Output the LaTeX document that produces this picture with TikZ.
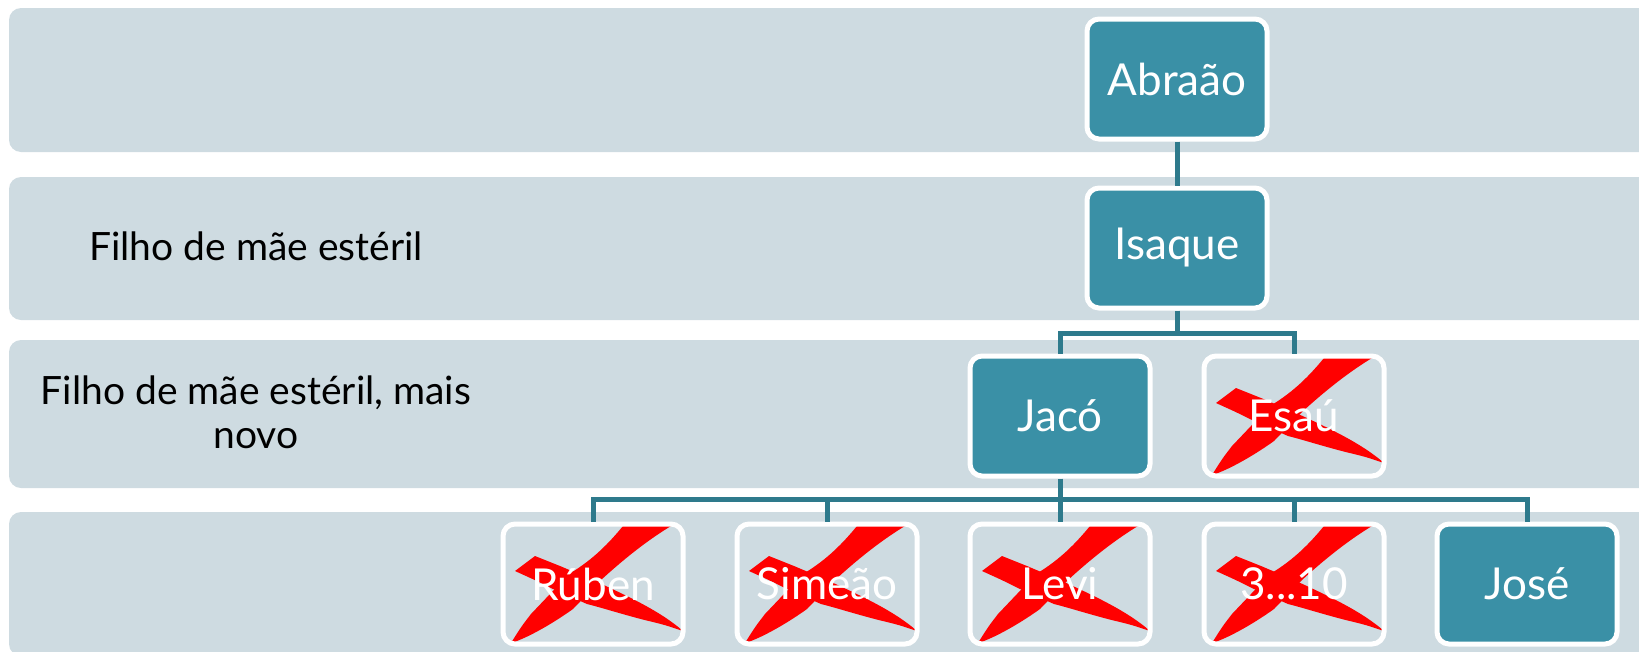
\documentclass[tikz,border=0pt]{standalone}
\usepackage{fontspec}
\setmainfont{Lato}
\usepackage{xcolor}
\definecolor{familyteal}{RGB}{58, 144, 166}
\definecolor{familyline}{RGB}{46, 122, 140}
\definecolor{familyband}{RGB}{206, 219, 225}
\definecolor{familyred}{RGB}{255, 0, 0}

\tikzset{
  band/.style={fill=familyband, rounded corners=12pt},
  person/.style={draw=white, line width=5pt, rounded corners=12pt, fill=familyteal,
    minimum width=180pt, minimum height=120pt, text=white, font=\fontsize{44}{52}\selectfont},
  crossed/.style={person, fill=none},
  link/.style={draw=familyline, line width=5pt},
  side/.style={font=\fontsize{39}{44}\selectfont, align=center},
  redcross/.pic={
    \begin{scope}[shift={(-90,60)}, yscale=-1]
    % stroke going up to the right
    \fill[familyred] (8,1) .. controls (25,6) and (52,22) .. (70,35) -- (98,64)
      .. controls (122,86) and (145,104) .. (168,118) -- (120,118)
      .. controls (102,96) and (86,82) .. (66,70) -- (28,30)
      .. controls (18,17) .. (8,1) -- cycle;
    % stroke going down to the right
    \fill[familyred] (12,73) -- (32,88) .. controls (45,83) .. (57,78) -- (90,64)
      .. controls (122,49) and (156,34) .. (180,13) .. controls (162,19) .. (150,22)
      .. controls (128,27) and (100,36) .. (84,40) -- (50,55)
      .. controls (34,63) .. (12,73) -- cycle;
    \end{scope}}
}

\begin{document}
\begin{tikzpicture}[x=1pt, y=-1pt]
\useasboundingbox (0,0) rectangle (1639,651);

% bands
\fill[band] (9,8) rectangle (1660,152);
\fill[band] (9,177) rectangle (1660,320);
\fill[band] (9,340) rectangle (1660,488);
\fill[band] (9,512) rectangle (1660,656);

% side notes
\node[side] (note2) at (256,246) {Filho de mãe estéril};
\node[side] (note3) at (256,412) {Filho de mãe estéril, mais\\novo};

% red crosses under the struck out names
\foreach \x/\y in {1294/416, 593/584, 827/584, 1060/584, 1294/584}
  \pic at (\x,\y) {redcross};

% family tree
\node[person] (abraao) at (1177,79) {Abraão};
\node[person] (isaque) at (1177,248) {Isaque};
\node[person] (jaco) at (1060,416) {Jacó};
\node[crossed] (esau) at (1294,416) {Esaú};
\node[crossed] (ruben) at (593,584) {Rúben};
\node[crossed] (simeao) at (827,584) {Simeão};
\node[crossed] (levi) at (1060,584) {Levi};
\node[crossed] (outros) at (1294,584) {3...10};
\node[person] (jose) at (1527,584) {José};

\coordinate (bus1) at (0,333);
\coordinate (bus2) at (0,499);
\draw[link] (abraao) -- (isaque);
\draw[link] (isaque) -- (isaque |- bus1) -| (jaco);
\draw[link] (isaque |- bus1) -| (esau);
\draw[link] (jaco) -- (jaco |- bus2);
\foreach \n in {ruben, simeao, levi, outros, jose}
  \draw[link] (jaco |- bus2) -| (\n);
\end{tikzpicture}
\end{document}
